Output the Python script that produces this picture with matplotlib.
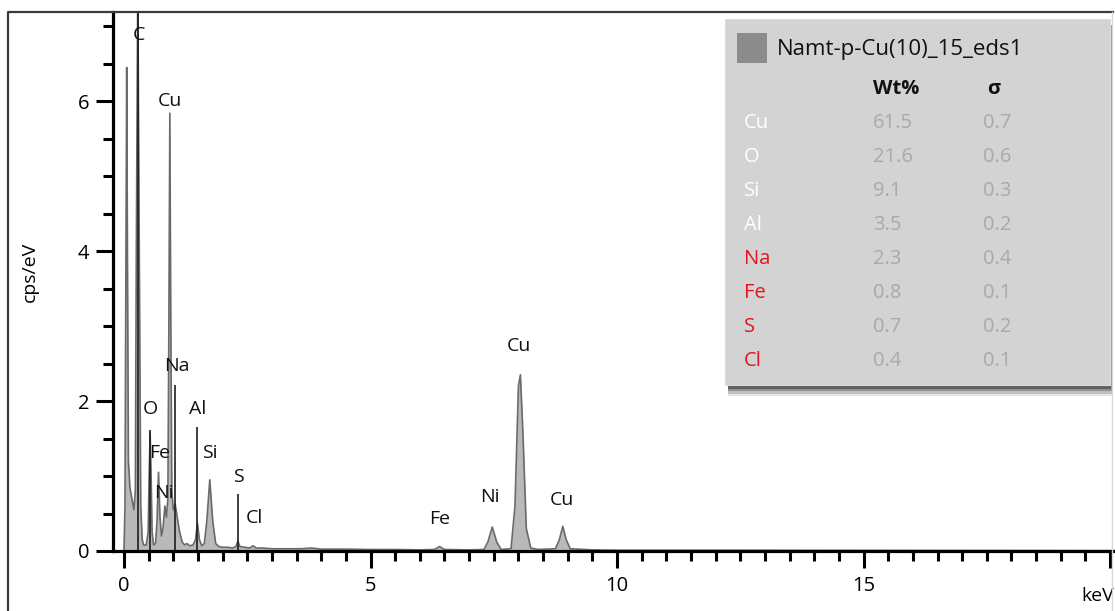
import matplotlib
matplotlib.use("Agg")
import matplotlib.pyplot as plt
from matplotlib.patches import Rectangle
from matplotlib.lines import Line2D
from matplotlib.ticker import MultipleLocator

# =========================
# spectrum (keV, cps/eV)
# =========================
energy = [0.00, 0.02, 0.04, 0.055, 0.07, 0.09, 0.12, 0.16, 0.20, 0.23, 0.25, 0.28, 0.31, 0.34,
          0.37, 0.40, 0.45, 0.49, 0.51, 0.53, 0.55, 0.57, 0.60, 0.64, 0.67, 0.70, 0.73, 0.76,
          0.79, 0.83, 0.86, 0.89, 0.91, 0.93, 0.95, 0.97, 1.00, 1.04, 1.08, 1.13, 1.18, 1.23,
          1.28, 1.33, 1.40, 1.45, 1.49, 1.53, 1.58, 1.63, 1.68, 1.74, 1.80, 1.86, 1.92, 2.00,
          2.10, 2.20, 2.27, 2.31, 2.35, 2.45, 2.55, 2.62, 2.68, 2.80, 3.00, 3.30, 3.60, 3.80,
          4.00, 4.50, 5.00, 5.50, 6.00, 6.30, 6.40, 6.50, 7.00, 7.30, 7.38, 7.47, 7.56, 7.65,
          7.85, 7.93, 8.00, 8.04, 8.09, 8.16, 8.25, 8.40, 8.75, 8.83, 8.90, 8.97, 9.05, 9.50,
          10.0, 12.0, 15.0, 20.1]
counts = [0.00, 0.60, 4.00, 6.45, 4.00, 1.20, 0.85, 0.70, 0.55, 0.80, 4.00, 7.60, 4.00, 0.60,
          0.15, 0.08, 0.08, 0.25, 1.00, 1.58, 1.00, 0.25, 0.08, 0.10, 0.40, 1.05, 0.45, 0.20,
          0.30, 0.60, 0.45, 0.70, 3.00, 5.84, 3.00, 0.80, 0.55, 0.62, 0.45, 0.25, 0.12, 0.08,
          0.10, 0.07, 0.08, 0.15, 0.37, 0.15, 0.07, 0.10, 0.40, 0.95, 0.40, 0.10, 0.06, 0.05,
          0.05, 0.04, 0.06, 0.13, 0.06, 0.05, 0.04, 0.07, 0.04, 0.04, 0.03, 0.03, 0.03, 0.04,
          0.025, 0.025, 0.02, 0.02, 0.015, 0.02, 0.06, 0.02, 0.015, 0.02, 0.12, 0.32, 0.12, 0.02,
          0.03, 0.60, 2.20, 2.35, 1.60, 0.30, 0.04, 0.02, 0.03, 0.15, 0.33, 0.15, 0.03, 0.015,
          0.01, 0.01, 0.008, 0.005]

# element marker lines
marker_keV = [0.277, 0.525, 1.041, 1.486, 2.307]
marker_top = [7.60, 1.61, 2.22, 1.65, 0.76]

# peak labels
peak_names = ["C", "Cu", "O", "Fe", "Ni", "Na", "Al", "Si", "S", "Cl", "Fe", "Ni", "Cu", "Cu"]
peak_x = [0.30, 0.93, 0.53, 0.73, 0.81, 1.07, 1.50, 1.75, 2.32, 2.64, 6.41, 7.43, 8.01, 8.88]
peak_y = [6.88, 6.00, 1.90, 1.31, 0.77, 2.47, 1.90, 1.31, 0.99, 0.44, 0.43, 0.72, 2.74, 0.68]

# quant table
spec_name = "Namt-p-Cu(10)_15_eds1"
elements = ["Cu", "O", "Si", "Al", "Na", "Fe", "S", "Cl"]
wt_pct = ["61.5", "21.6", "9.1", "3.5", "2.3", "0.8", "0.7", "0.4"]
sigma = ["0.7", "0.6", "0.3", "0.2", "0.4", "0.1", "0.2", "0.1"]
flagged = [False, False, False, False, True, True, True, True]

W, H = 1115, 611
plt.rcParams["font.family"] = ["Open Sans", "DejaVu Sans"]


def fx(px):
    return px / W


def fy(py):
    return 1.0 - py / H


fig = plt.figure(figsize=(W / 100, H / 100), dpi=100)
ax = fig.add_axes([fx(113), fy(551), fx(1115) - fx(113), fy(12) - fy(551)])
ax.set_xlim(-0.223, 20.1)
ax.set_ylim(0, 7.19)

ax.fill_between(energy, counts, 0, color="#b9b9b9", lw=0)
ax.plot(energy, counts, color="#6a6a6a", lw=1.2)
ax.vlines(marker_keV, 0, marker_top, color="#1e1e1e", lw=1.2)

for name, x, y in zip(peak_names, peak_x, peak_y):
    ax.text(x, y, name, ha="center", va="center", fontsize=14, color="#111111")

for s in ["top", "right"]:
    ax.spines[s].set_visible(False)
for s in ["left", "bottom"]:
    ax.spines[s].set_linewidth(2.3)
    ax.spines[s].set_color("black")

ax.xaxis.set_major_locator(MultipleLocator(5))
ax.xaxis.set_minor_locator(MultipleLocator(0.5))
ax.yaxis.set_major_locator(MultipleLocator(2))
ax.yaxis.set_minor_locator(MultipleLocator(0.5))
ax.set_xticks([0, 5, 10, 15, 20])
ax.set_xticklabels(["0", "5", "10", "15", ""])
ax.tick_params(which="major", length=12, width=2.2, labelsize=14.5, direction="out")
ax.tick_params(which="minor", length=7.5, width=2.2, direction="out")
ax.tick_params(axis="x", pad=6)
ax.tick_params(axis="y", pad=5)
ax.text(20.08, -0.6, "keV", ha="right", va="center", fontsize=14, clip_on=False)
fig.text(fx(30), fy(272), "cps/eV", rotation=90, ha="center", va="center", fontsize=14)

# figure frame
fig.add_artist(Line2D([fx(8), fx(8), fx(1113)], [0, fy(12), fy(12)], transform=fig.transFigure,
                      color="#3a3a3a", lw=1.6))
fig.add_artist(Line2D([fx(1112), fx(1112)], [0, fy(12)], transform=fig.transFigure,
                      color="#d8d8d8", lw=1.0))

# quant table box with shadow
bx0, by0, bx1, by1 = 725, 19, 1110, 385
for i, a in enumerate([0.10, 0.16, 0.24, 0.34]):
    off = 11 - i * 2.5
    fig.add_artist(Rectangle((fx(bx0 + 3), fy(by1 + off)), fx(bx1 + off * 0.3) - fx(bx0 + 3),
                             fy(by0 + 6) - fy(by1 + off), transform=fig.transFigure,
                             facecolor="black", alpha=a, lw=0))
fig.add_artist(Rectangle((fx(bx0), fy(by1)), fx(bx1) - fx(bx0), fy(by0) - fy(by1),
                         transform=fig.transFigure, facecolor="#d3d3d3", edgecolor="#dcdcdc", lw=0.8))
fig.add_artist(Rectangle((fx(737), fy(63)), fx(767) - fx(737), fy(33) - fy(63),
                         transform=fig.transFigure, facecolor="#8c8c8c", lw=0))
fig.text(fx(777), fy(49), spec_name, ha="left", va="center", fontsize=16, color="#111111")
fig.text(fx(873), fy(89), "Wt%", ha="left", va="center", fontsize=14.5, weight="bold", color="#111111")
fig.text(fx(987), fy(89), "σ", ha="left", va="center", fontsize=14.5, weight="bold", color="#111111")

row_y0, row_dy = 123, 34.0
for i, (el, w, s, f) in enumerate(zip(elements, wt_pct, sigma, flagged)):
    yy = fy(row_y0 + i * row_dy)
    fig.text(fx(744), yy, el, ha="left", va="center", fontsize=14.5,
             color="#e3141b" if f else "white")
    fig.text(fx(873), yy, w, ha="left", va="center", fontsize=14.5, color="#a9a9a9")
    fig.text(fx(983), yy, s, ha="left", va="center", fontsize=14.5, color="#a9a9a9")

fig.savefig("out.png", dpi=100, facecolor="white")
